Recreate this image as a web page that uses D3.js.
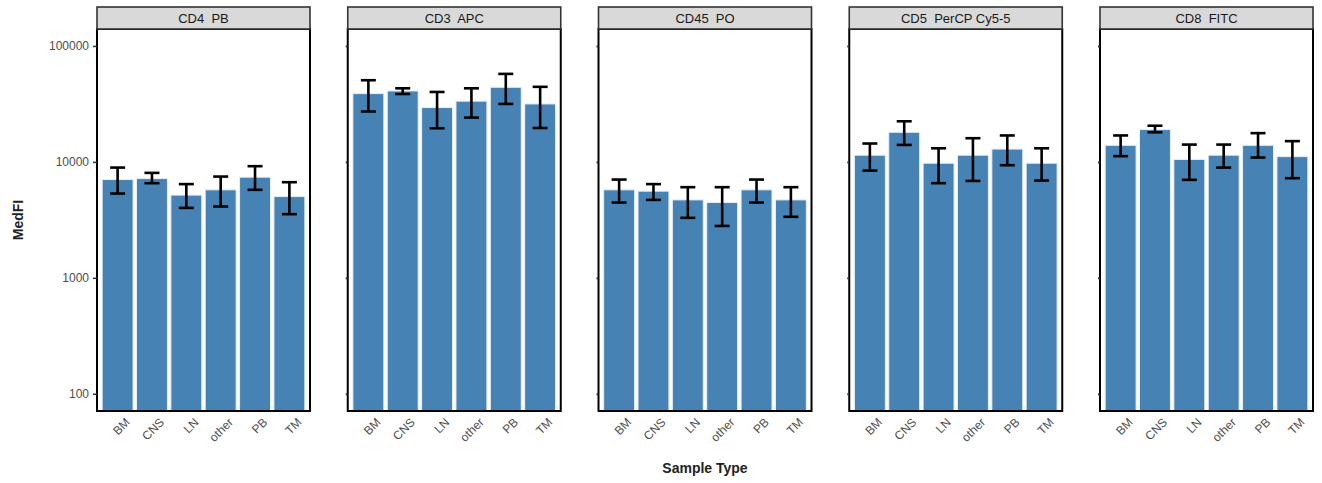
<!DOCTYPE html>
<html>
<head>
<meta charset="utf-8">
<script src="https://cdn.jsdelivr.net/npm/d3@7"></script>
<style>
  body { margin: 0; background: #fff; }
  svg { font-family: "Liberation Sans", Arial, sans-serif; display: block; }
</style>
</head>
<body>
<div id="chart"></div>
<script>
// categories and panels
var sampleTypes = ["BM", "CNS", "LN", "other", "PB", "TM"];
var markers = ["CD4_PB", "CD3_APC", "CD45_PO", "CD5_PerCP Cy5-5", "CD8_FITC"];
var yTicks = [100, 1000, 10000, 100000];

// median MFI per marker (same order as sampleTypes)
var cd4Values  = [7040, 7180, 5170, 5740, 7380, 5020];
var cd3Values  = [38800, 40900, 29400, 33400, 44000, 31600];
var cd45Values = [5740, 5590, 4700, 4460, 5740, 4700];
var cd5Values  = [11420, 18000, 9740, 11420, 12900, 9740];
var cd8Values  = [13900, 19000, 10500, 11420, 13900, 11100];

// error bar upper limits
var cd4Upper  = [8930, 8040, 6430, 7470, 9180, 6680];
var cd3Upper  = [50600, 43100, 40100, 43100, 57400, 44400];
var cd45Upper = [7040, 6430, 6050, 6050, 7040, 6050];
var cd5Upper  = [14400, 22400, 13100, 16000, 16900, 13100];
var cd8Upper  = [16900, 20500, 14100, 14100, 17700, 15100];

// error bar lower limits
var cd4Lower  = [5330, 6550, 4010, 4120, 5740, 3540];
var cd3Lower  = [27200, 38500, 19500, 24100, 31600, 19600];
var cd45Lower = [4460, 4700, 3290, 2800, 4460, 3360];
var cd5Lower  = [8410, 14000, 6550, 6850, 9360, 6900];
var cd8Lower  = [11200, 18000, 7000, 8930, 10900, 7230];

var values = [cd4Values, cd3Values, cd45Values, cd5Values, cd8Values];
var uppers = [cd4Upper, cd3Upper, cd45Upper, cd5Upper, cd8Upper];
var lowers = [cd4Lower, cd3Lower, cd45Lower, cd5Lower, cd8Lower];

var W = 1322, H = 483;
var panelLeft = 97, panelWidth = 213, panelStep = 250.75;
var stripTop = 7, panelTop = 29, panelBottom = 411;

var svg = d3.select("#chart").append("svg")
  .attr("width", W).attr("height", H);

// log y scale shared by all panels
var y = d3.scaleLog()
  .domain([71, 140000])
  .range([panelBottom, panelTop]);

// category positions 1..6 with ggplot-like 0.6 expansion on each side
var xPos = d3.scaleLinear().domain([0.4, 6.6]).range([0, panelWidth]);
var barW = xPos(1.9) - xPos(1);
var capHalf = 7.5;

markers.forEach(function(m, i) {
  var x0 = panelLeft + i * panelStep;
  var g = svg.append("g").attr("transform", "translate(" + x0 + ",0)");

  var rows = sampleTypes.map(function(s, j) {
    return { type: s, v: values[i][j], hi: uppers[i][j], lo: lowers[i][j], idx: j + 1 };
  });

  // clip bars to panel
  g.append("clipPath").attr("id", "clip" + i)
    .append("rect").attr("x", 0).attr("y", panelTop).attr("width", panelWidth).attr("height", panelBottom - panelTop);

  g.append("g").attr("clip-path", "url(#clip" + i + ")")
    .selectAll("rect")
    .data(rows).enter()
    .append("rect")
    .attr("x", function(d) { return xPos(d.idx) - barW / 2; })
    .attr("width", barW)
    .attr("y", function(d) { return y(d.v); })
    .attr("height", function(d) { return panelBottom + 5 - y(d.v); })
    .style("fill", "#4682b4")
    .style("stroke", "#e8eef5")
    .style("stroke-width", 1);

  // error bars
  var eb = g.selectAll(".err").data(rows).enter().append("g").attr("class", "err")
    .style("stroke", "#000").style("stroke-width", 2.6);
  eb.append("line")
    .attr("x1", function(d) { return xPos(d.idx); })
    .attr("x2", function(d) { return xPos(d.idx); })
    .attr("y1", function(d) { return y(d.hi); })
    .attr("y2", function(d) { return y(d.lo); });
  eb.append("line")
    .attr("x1", function(d) { return xPos(d.idx) - capHalf; })
    .attr("x2", function(d) { return xPos(d.idx) + capHalf; })
    .attr("y1", function(d) { return y(d.hi); })
    .attr("y2", function(d) { return y(d.hi); });
  eb.append("line")
    .attr("x1", function(d) { return xPos(d.idx) - capHalf; })
    .attr("x2", function(d) { return xPos(d.idx) + capHalf; })
    .attr("y1", function(d) { return y(d.lo); })
    .attr("y2", function(d) { return y(d.lo); });

  // panel border
  g.append("rect")
    .attr("x", 0).attr("y", panelTop)
    .attr("width", panelWidth).attr("height", panelBottom - panelTop)
    .style("fill", "none").style("stroke", "#000").style("stroke-width", 2);

  // strip
  g.append("rect")
    .attr("x", 0).attr("y", stripTop)
    .attr("width", panelWidth).attr("height", panelTop - stripTop)
    .style("fill", "#d9d9d9").style("stroke", "#333").style("stroke-width", 1.6);
  g.append("text")
    .attr("x", panelWidth / 2).attr("y", (stripTop + panelTop) / 2 + 5)
    .attr("text-anchor", "middle")
    .style("font-size", "13px").style("fill", "#1a1a1a")
    .style("white-space", "pre")
    .text(m.replace("_", "  "));

  // y axis ticks
  var yAxis = d3.axisLeft(y).tickValues(yTicks).tickSize(i === 0 ? 4 : 2)
    .tickFormat(i === 0 ? d3.format("d") : "");
  var ya = g.append("g").call(yAxis);
  ya.attr("font-family", null);
  ya.select(".domain").remove();
  ya.selectAll(".tick line").style("stroke", "#333").style("stroke-width", i === 0 ? 1.5 : 2);
  ya.selectAll(".tick text")
    .style("font-family", "'Liberation Sans', Arial, sans-serif")
    .style("fill", "#4d4d4d").style("font-size", "12px")
    .attr("x", -8);

  // x axis labels
  var xa = g.append("g");
  xa.selectAll("text").data(rows).enter().append("text")
    .attr("transform", function(d) { return "translate(" + (xPos(d.idx) + 7) + "," + (panelBottom + 6) + ") rotate(-45)"; })
    .attr("text-anchor", "end")
    .attr("dy", "0.71em")
    .style("font-size", "12px").style("fill", "#4d4d4d")
    .text(function(d) { return d.type; });
});

// axis titles
svg.append("text")
  .attr("x", 705).attr("y", 473)
  .attr("text-anchor", "middle")
  .style("font-size", "14px").style("font-weight", "bold").style("fill", "#222")
  .text("Sample Type");

svg.append("text")
  .attr("transform", "translate(23," + ((panelTop + panelBottom) / 2) + ") rotate(-90)")
  .attr("text-anchor", "middle")
  .style("font-size", "14px").style("font-weight", "bold").style("fill", "#222")
  .text("MedFI");
</script>
</body>
</html>
